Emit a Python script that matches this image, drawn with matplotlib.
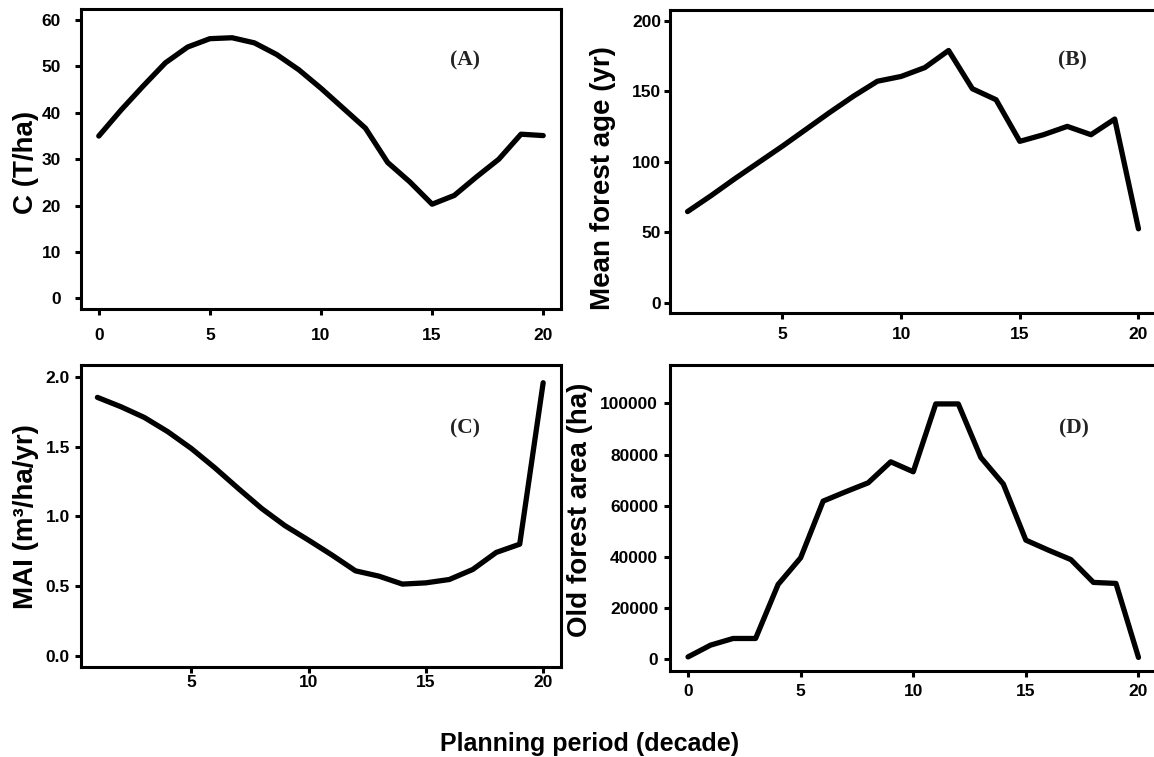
"""Four-panel forest planning summary (carbon, age, MAI, old forest)."""

import matplotlib

matplotlib.use("Agg")
import matplotlib.pyplot as plt

# planning periods
period_full = list(range(0, 21))
period_from1 = list(range(1, 21))

# (A) carbon, T/ha
carbon = [35.0, 40.6, 45.8, 50.8, 54.2, 56.0, 56.2, 55.1, 52.6, 49.3, 45.3,
          41.0, 36.7, 29.3, 25.1, 20.3, 22.2, 26.2, 30.0, 35.4, 35.1]
# (B) mean forest age, yr
mean_age = [64.6, 76.0, 88.0, 99.5, 111.0, 123.0, 135.0, 146.5, 157.0, 160.4,
            166.7, 178.8, 151.7, 143.9, 114.4, 119.1, 125.0, 119.1, 130.2, 52.4]
# (C) mean annual increment, m3/ha/yr
mai = [1.852, 1.785, 1.708, 1.606, 1.486, 1.348, 1.200, 1.056, 0.932, 0.829,
       0.722, 0.609, 0.571, 0.514, 0.523, 0.547, 0.619, 0.741, 0.800, 1.957]
# (D) old forest area, ha
old_area = [1000, 5600, 8200, 8200, 29300, 39700, 61850, 65500, 69000, 77200,
            73300, 99800, 99800, 78900, 68500, 46600, 42700, 39000, 30100,
            29700, 800]

W, H = 1154, 757

plt.rcParams["font.family"] = ["Liberation Sans", "DejaVu Sans"]
plt.rcParams["font.weight"] = "bold"

fig = plt.figure(figsize=(W / 100, H / 100), dpi=100)


def add_axes(left, top, right, bottom):
    return fig.add_axes([left / W, 1 - bottom / H, (right - left) / W, (bottom - top) / H])


def style(ax, xpad, ypad):
    for sp in ax.spines.values():
        sp.set_linewidth(2.2)
    ax.tick_params(length=4.5, width=2.2, labelsize=12.5)
    ax.tick_params(axis="x", pad=xpad)
    ax.tick_params(axis="y", pad=ypad)
    for lab in ax.get_xticklabels() + ax.get_yticklabels():
        lab.set_fontweight("bold")


def panel_tag(ax, text, x, y):
    ax.text(x, y, text, transform=ax.transAxes, ha="center", va="center",
            fontsize=15.5, fontweight="bold", color="#222222",
            family=["Liberation Serif", "DejaVu Serif"])


lw = 3.8

# (A)
axA = add_axes(81, 9, 561, 309)
axA.plot(period_full, carbon, color="black", lw=lw, solid_capstyle="round", solid_joinstyle="round")
axA.set_xlim(-0.8, 20.8)
axA.set_ylim(-2.3, 62.4)
axA.set_xticks([0, 5, 10, 15, 20])
axA.set_yticks(range(0, 61, 10))
style(axA, 9, 10)
panel_tag(axA, "(A)", 0.799, 0.827)

# (B)
axB = add_axes(669.5, 10, 1156.5, 313.3)
axB.plot(period_from1, mean_age, color="black", lw=lw, solid_capstyle="round", solid_joinstyle="round")
axB.set_xlim(0.24, 20.76)
axB.set_ylim(-7.5, 207.5)
axB.set_xticks([5, 10, 15, 20])
axB.set_yticks(range(0, 201, 50))
style(axB, 5.5, 1.5)
panel_tag(axB, "(B)", 0.828, 0.835)

# (C)
axC = add_axes(81, 365, 561, 667)
axC.plot(period_from1, mai, color="black", lw=lw, solid_capstyle="round", solid_joinstyle="round")
axC.set_xlim(0.3, 20.76)
axC.set_ylim(-0.08, 2.084)
axC.set_xticks([5, 10, 15, 20])
axC.set_yticks([0.0, 0.5, 1.0, 1.5, 2.0])
axC.set_yticklabels(["0.0", "0.5", "1.0", "1.5", "2.0"])
style(axC, 1.5, 3.5)
panel_tag(axC, "(C)", 0.799, 0.791)

# (D)
axD = add_axes(670, 365, 1156.5, 671)
axD.plot(period_full, old_area, color="black", lw=lw, solid_capstyle="round", solid_joinstyle="round")
axD.set_xlim(-0.8, 20.8)
axD.set_ylim(-4500, 115000)
axD.set_xticks([0, 5, 10, 15, 20])
axD.set_yticks(range(0, 100001, 20000))
axD.set_yticklabels([str(v) for v in range(0, 100001, 20000)])
style(axD, 4.5, 4)
panel_tag(axD, "(D)", 0.83, 0.794)

# axis titles
ylab = dict(rotation=90, ha="center", va="center", fontsize=20, fontweight="bold")
fig.text(26 / W, 1 - 162 / H, "C (T/ha)", **ylab)
fig.text(603 / W, 1 - 178 / H, "Mean forest age (yr)", **ylab)
fig.text(26 / W, 1 - 517 / H, "MAI (m³/ha/yr)", **ylab)
fig.text(580 / W, 1 - 510 / H, "Old forest area (ha)", **ylab)
fig.text(590 / W, 1 - 744 / H, "Planning period (decade)", ha="center", va="center",
         fontsize=18, fontweight="bold")

fig.savefig("out.png", dpi=100)
